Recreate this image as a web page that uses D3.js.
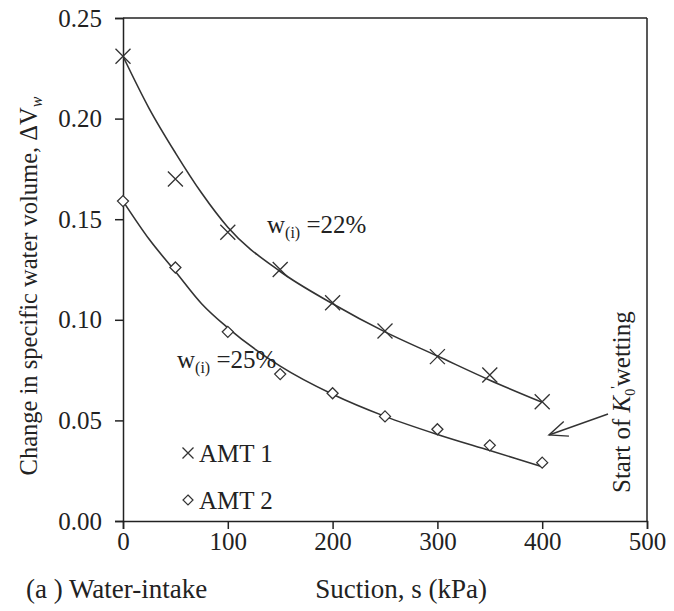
<!DOCTYPE html>
<html>
<head>
<meta charset="utf-8">
<script src="https://cdn.jsdelivr.net/npm/d3@7"></script>
<style>
  html, body { margin: 0; padding: 0; background: #fff; }
  svg { display: block; font-family: "Liberation Serif", "DejaVu Serif", serif; }
</style>
</head>
<body>
<svg id="chart" width="674" height="611"></svg>
<script>
// Measured points: suction (kPa) vs change in specific water volume
const suction = [0, 50, 100, 150, 200, 250, 300, 350, 400];
const amt1 = [0.231, 0.170, 0.1435, 0.125, 0.1085, 0.0944, 0.0817, 0.0726, 0.0593];
const amt2 = [0.159, 0.126, 0.094, 0.073, 0.0635, 0.052, 0.0456, 0.0376, 0.0290];

// Trend curves through each data set
const fitSuction = [0, 25, 50, 75, 100, 150, 200, 250, 300, 350, 400];
const fit1 = [0.231, 0.205, 0.183, 0.163, 0.146, 0.124, 0.108, 0.094, 0.082, 0.070, 0.059];
const fit2 = [0.159, 0.140, 0.124, 0.108, 0.096, 0.077, 0.063, 0.052, 0.043, 0.035, 0.027];

// Axis ticks
const xTicks = [0, 100, 200, 300, 400, 500];
const yTicks = [0, 0.05, 0.10, 0.15, 0.20, 0.25];

const svg = d3.select("#chart");
const plot = { left: 123, right: 647, top: 18, bottom: 521 };

const x = d3.scaleLinear().domain([0, 500]).range([plot.left, plot.right]);
const y = d3.scaleLinear().domain([0, 0.25]).range([plot.bottom, plot.top]);

const ink = "#222";
const lineInk = "#333";

// Frame (top and right edges)
svg.append("line").attr("x1", plot.left).attr("x2", plot.right)
  .attr("y1", plot.top).attr("y2", plot.top)
  .attr("stroke", ink).attr("stroke-width", 1.5);
svg.append("line").attr("x1", plot.right).attr("x2", plot.right)
  .attr("y1", plot.top).attr("y2", plot.bottom)
  .attr("stroke", ink).attr("stroke-width", 1.5);

// Axes
const xAxis = svg.append("g")
  .attr("transform", `translate(0,${plot.bottom})`)
  .call(d3.axisBottom(x).tickValues(xTicks).tickSizeOuter(0).tickSize(8).tickPadding(3).tickFormat(d3.format("d")));
const yAxis = svg.append("g")
  .attr("transform", `translate(${plot.left},0)`)
  .call(d3.axisLeft(y).tickValues(yTicks).tickSizeOuter(0).tickSize(8).tickPadding(13).tickFormat(d3.format(".2f")));

[xAxis, yAxis].forEach(g => {
  g.select(".domain").attr("stroke", ink).attr("stroke-width", 1.5);
  g.selectAll(".tick line").attr("stroke", ink).attr("stroke-width", 1.5);
  g.selectAll(".tick text").attr("fill", "#222").style("font-size", "25px")
    .style("font-family", "'Liberation Serif', serif");
});

// Trend curves
const curve = d3.line()
  .x(d => x(d[0]))
  .y(d => y(d[1]))
  .curve(d3.curveMonotoneX);

[fit1, fit2].forEach(f => {
  svg.append("path")
    .datum(fitSuction.map((s, i) => [s, f[i]]))
    .attr("d", curve)
    .attr("fill", "none")
    .attr("stroke", lineInk)
    .attr("stroke-width", 1.6);
});

// Markers
const crossSize = 7.5;
svg.append("g").selectAll("path")
  .data(suction.map((s, i) => [s, amt1[i]]))
  .join("path")
  .attr("transform", d => `translate(${x(d[0])},${y(d[1])})`)
  .attr("d", `M${-crossSize},${-crossSize}L${crossSize},${crossSize}M${-crossSize},${crossSize}L${crossSize},${-crossSize}`)
  .attr("stroke", lineInk).attr("stroke-width", 1.3).attr("fill", "none");

const dia = 5.5;
svg.append("g").selectAll("path")
  .data(suction.map((s, i) => [s, amt2[i]]))
  .join("path")
  .attr("transform", d => `translate(${x(d[0])},${y(d[1])})`)
  .attr("d", `M0,${-dia}L${dia},0L0,${dia}L${-dia},0Z`)
  .attr("stroke", lineInk).attr("stroke-width", 1.3).attr("fill", "#fff");

// Curve labels: w(i) = ...
function wLabel(px, py, value) {
  const t = svg.append("text").attr("x", px).attr("y", py)
    .attr("fill", "#222").style("font-size", "25px");
  t.append("tspan").text("w");
  t.append("tspan").attr("dy", 5).style("font-size", "16px").text("(i)");
  t.append("tspan").attr("dy", -5).text(" =" + value);
}
wLabel(267, 233, "22%");
wLabel(177, 368, "25%");

// Legend
const legend = svg.append("g");
legend.append("path")
  .attr("transform", "translate(188,453)")
  .attr("d", "M-5.5,-5.5L5.5,5.5M-5.5,5.5L5.5,-5.5")
  .attr("stroke", lineInk).attr("stroke-width", 1.3);
legend.append("text").attr("x", 199).attr("y", 462)
  .attr("fill", "#222").style("font-size", "25px").text("AMT 1");
legend.append("path")
  .attr("transform", "translate(188,500)")
  .attr("d", "M0,-5L5,0L0,5L-5,0Z")
  .attr("stroke", lineInk).attr("stroke-width", 1.2).attr("fill", "#fff");
legend.append("text").attr("x", 199).attr("y", 509)
  .attr("fill", "#222").style("font-size", "25px").text("AMT 2");

// Axis titles
svg.append("text")
  .attr("x", 401).attr("y", 598)
  .attr("text-anchor", "middle")
  .attr("fill", "#222").style("font-size", "27px")
  .text("Suction, s (kPa)");

svg.append("text")
  .attr("x", 26).attr("y", 598)
  .attr("fill", "#222").style("font-size", "27px")
  .text("(a ) Water-intake");

const yTitle = svg.append("text")
  .attr("transform", "translate(37,286) rotate(-90)")
  .attr("text-anchor", "middle")
  .attr("fill", "#222").style("font-size", "24.5px");
yTitle.append("tspan").text("Change in specific water volume, ΔV");
yTitle.append("tspan").attr("dy", 5).style("font-size", "16px").style("font-style", "italic").text("w");

// Annotation with arrow
const note = svg.append("text")
  .attr("transform", "translate(630,493) rotate(-90)")
  .attr("fill", "#222").style("font-size", "25px");
note.append("tspan").text("Start of ");
note.append("tspan").style("font-style", "italic").text("K");
note.append("tspan").attr("dy", 5).style("font-size", "14px").text("0");
note.append("tspan").attr("dy", -14).style("font-size", "14px").text("'");
note.append("tspan").attr("dy", 9).text("wetting");

const tip = [549, 435], tail = [608, 414];
svg.append("line")
  .attr("x1", tail[0]).attr("y1", tail[1]).attr("x2", tip[0]).attr("y2", tip[1])
  .attr("stroke", lineInk).attr("stroke-width", 1.4);
const ang = Math.atan2(tail[1] - tip[1], tail[0] - tip[0]);
const headLen = 20, spread = 0.4;
svg.append("path")
  .attr("d", `M${tip[0] + headLen * Math.cos(ang + spread)},${tip[1] + headLen * Math.sin(ang + spread)}` +
             `L${tip[0]},${tip[1]}` +
             `L${tip[0] + headLen * Math.cos(ang - spread)},${tip[1] + headLen * Math.sin(ang - spread)}`)
  .attr("fill", "none").attr("stroke", lineInk).attr("stroke-width", 1.4);
</script>
</body>
</html>
